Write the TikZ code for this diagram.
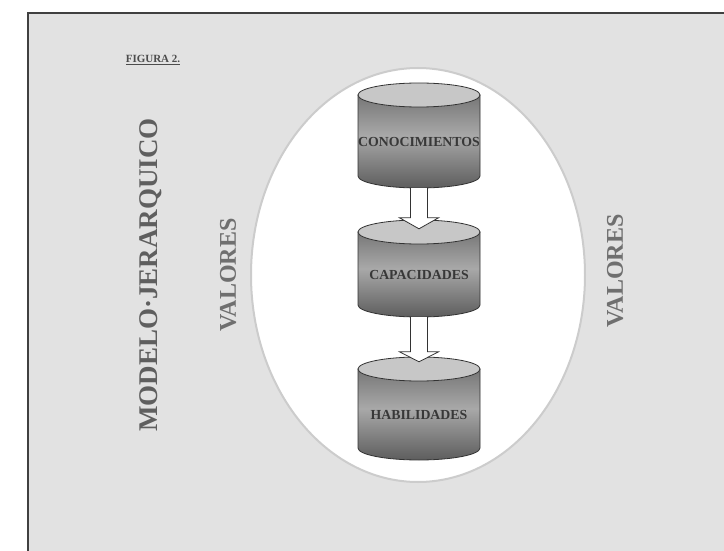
\documentclass[tikz,border=0pt]{standalone}
\usepackage{fontspec}
\setmainfont{Liberation Serif}
\usepackage{tikz}
\usetikzlibrary{shapes.geometric, calc}
\definecolor{paper}{RGB}{226,226,226}
\definecolor{inkgray}{RGB}{95,95,95}

\begin{document}
\begin{tikzpicture}[x=1pt, y=1pt,
  frame/.style={draw=black!75, line width=1.6pt, fill=paper},
  ring/.style={ellipse, minimum width=334pt, minimum height=414pt, fill=white, draw=black!20, line width=2pt},
  cyl/.style={rectangle, minimum width=124pt, inner sep=0pt, path picture={
      \path[top color=black!60, bottom color=black!64, middle color=black!34, draw=black!80, line width=0.8pt]
        ([xshift=1pt,yshift=-13pt]path picture bounding box.north west) --
        ([xshift=1pt,yshift=13pt]path picture bounding box.south west)
        arc[start angle=180, end angle=360, x radius=61pt, y radius=12pt] --
        ([xshift=-1pt,yshift=-13pt]path picture bounding box.north east) -- cycle;
      \path[fill=black!22, draw=black!80, line width=0.8pt]
        ([yshift=-13pt]path picture bounding box.north) ellipse[x radius=61pt, y radius=12pt];
    }},
  cyllab/.style={font=\fontsize{13.8}{16}\selectfont\bfseries, text=black!78, yshift=-6pt},
  blockarr/.style={fill=white, draw=black!80, line width=0.8pt, line join=miter},
  vert/.style={rotate=90, font=\fontsize{27}{30}\selectfont\bfseries, text=inkgray},
  val/.style={rotate=90, font=\fontsize{24}{28}\selectfont\bfseries, text=inkgray!90},
  figlab/.style={font=\fontsize{11}{13}\selectfont\bfseries, text=black!70}
]
\useasboundingbox (0,0) rectangle (724,-551);
\clip (0,0) rectangle (724,-551);

% frame and oval
\draw[frame] (28,-13) rectangle (745,-575);
\node[ring] (ring) at (418,-275) {};

% side texts
\node[figlab] (fig) at (153,-60) {\underline{FIGURA 2.}};
\node[vert] (model) at (151,-275) {MODELO·JERARQUICO};
\node[val] (valL) at (228,-275) {VALORES};
\node[val] (valR) at (615,-271) {VALORES};

% the three levels
\node[cyl, minimum height=107pt, label={[cyllab]center:CONOCIMIENTOS}] (con) at (419,-135.5) {};
\node[cyl, minimum height=99pt, label={[cyllab]center:CAPACIDADES}] (cap) at (419,-268.5) {};
\node[cyl, minimum height=105pt, label={[cyllab]center:HABILIDADES}] (hab) at (419,-408.5) {};

\draw[blockarr] let \p1=(con.south), \p2=(cap.north) in
  (\x1-8.5pt,\y1+1pt) -- (\x1-8.5pt,\y2+1pt) -- (\x1-19.5pt,\y2+1pt) -- (\x1,\y2-10pt)
  -- (\x1+19.5pt,\y2+1pt) -- (\x1+8.5pt,\y2+1pt) -- (\x1+8.5pt,\y1+1pt);
\draw[blockarr] let \p1=(cap.south), \p2=(hab.north) in
  (\x1-8.5pt,\y1+1pt) -- (\x1-8.5pt,\y2+4pt) -- (\x1-19.5pt,\y2+4pt) -- (\x1,\y2-6pt)
  -- (\x1+19.5pt,\y2+4pt) -- (\x1+8.5pt,\y2+4pt) -- (\x1+8.5pt,\y1+1pt);
\end{tikzpicture}
\end{document}
